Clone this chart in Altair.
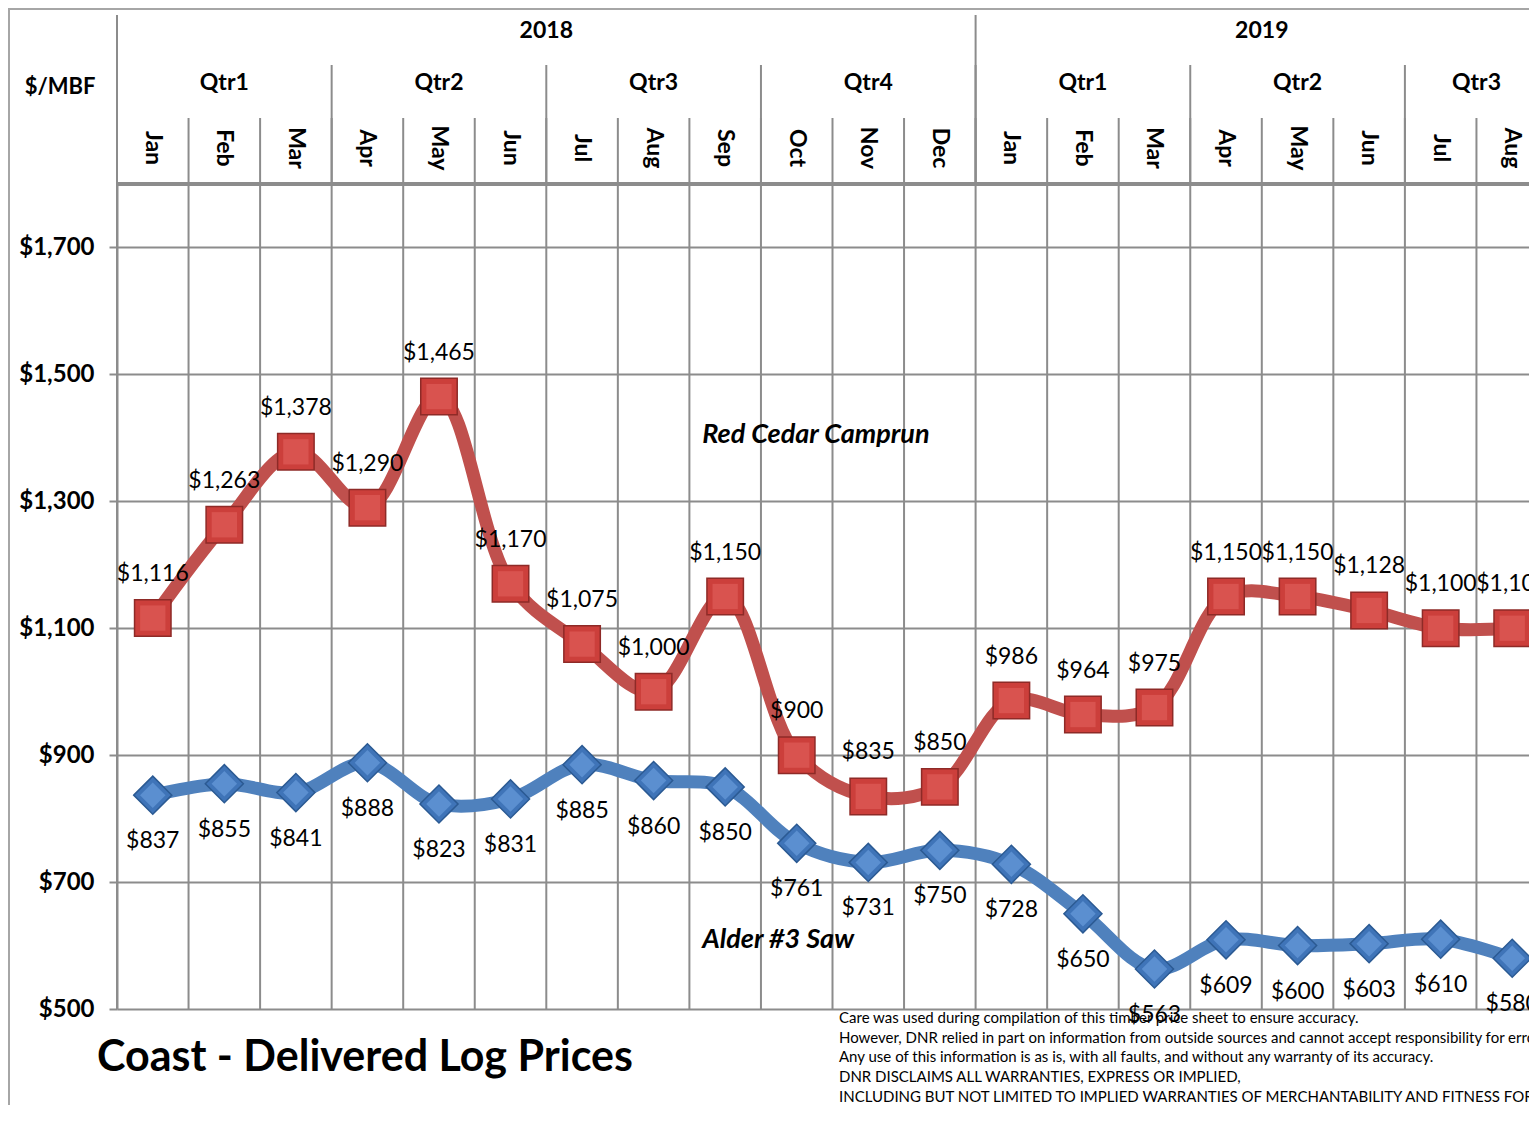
import altair as alt
import pandas as pd

# ---------------- data ----------------
months = ["Jan", "Feb", "Mar", "Apr", "May", "Jun", "Jul", "Aug", "Sep", "Oct", "Nov", "Dec",
          "Jan", "Feb", "Mar", "Apr", "May", "Jun", "Jul", "Aug"]
years = ["2018"] * 12 + ["2019"] * 8
quarters = (["Qtr1"] * 3 + ["Qtr2"] * 3 + ["Qtr3"] * 3 + ["Qtr4"] * 3 +
            ["Qtr1"] * 3 + ["Qtr2"] * 3 + ["Qtr3"] * 2)
red_cedar = [1116, 1263, 1378, 1290, 1465, 1170, 1075, 1000, 1150, 900, 835, 850,
             986, 964, 975, 1150, 1150, 1128, 1100, 1100]
alder = [837, 855, 841, 888, 823, 831, 885, 860, 850, 761, 731, 750,
         728, 650, 563, 609, 600, 603, 610, 580]
y_ticks = [500, 700, 900, 1100, 1300, 1500, 1700]
series_names = ["Red Cedar Camprun", "Alder #3 Saw"]
series_name_pos = [8.18, 8.18]      # month position of annotation (left edge)
series_name_val = [1404, 609]       # $ value of annotation
title_text = "Coast - Delivered Log Prices"
unit_label = "$/MBF"
footnote_lines = [
    "Care was used during compilation of this timber price sheet to ensure accuracy.",
    "However, DNR relied in part on information from outside sources and cannot accept responsibility for errors.",
    "Any use of this information is as is, with all faults, and without any warranty of its accuracy.",
    "DNR DISCLAIMS ALL WARRANTIES, EXPRESS OR IMPLIED,",
    "INCLUDING BUT NOT LIMITED TO IMPLIED WARRANTIES OF MERCHANTABILITY AND FITNESS FOR PARTICULAR PURPOSE.",
]

# ---------------- layout ----------------
N = len(months)
COL_W = 71.55
PLOT_H = 825
VIS_W = 1412
Y_MIN, Y_MAX = 500, 1800
GRID = "#8c8c8c"
RED = "#C0504D"
BLUE = "#4F81BD"
FONT = "Lato"

xs = alt.Scale(domain=[0, N], range=[0, COL_W * N], nice=False, zero=False)
ys = alt.Scale(domain=[Y_MIN, Y_MAX], nice=False, zero=False)

yaxis = alt.Axis(values=y_ticks, format="$,d", title=None, grid=True,
                 gridColor=GRID, gridWidth=2, domainColor=GRID, domainWidth=2,
                 tickColor=GRID, tickWidth=2, tickSize=8, labelPadding=15,
                 labelFont=FONT, labelFontSize=24, labelFontWeight="bold",
                 labelColor="black")

pos = [i + 0.5 for i in range(N)]
df_red = pd.DataFrame({"pos": pos, "value": red_cedar,
                       "label": [f"${v:,}" for v in red_cedar]})
df_blue = pd.DataFrame({"pos": pos, "value": alder,
                        "label": [f"${v:,}" for v in alder]})
df_months = pd.DataFrame({"pos": pos, "month": months})


def spans(keys):
    out = []
    start = 0
    for i in range(1, N + 1):
        if i == N or keys[i] != keys[start]:
            out.append((start, i))
            start = i
    return out


q_keys = [y + q for y, q in zip(years, quarters)]
q_spans = spans(q_keys)
y_spans = spans(years)
df_q = pd.DataFrame({"center": [(a + b) / 2 for a, b in q_spans],
                     "start": [a for a, b in q_spans],
                     "name": [quarters[a] for a, b in q_spans]})
df_y = pd.DataFrame({"center": [(a + b) / 2 for a, b in y_spans],
                     "start": [a for a, b in y_spans],
                     "name": [years[a] for a, b in y_spans]})
df_bounds = pd.DataFrame({"b": list(range(N + 1)),
                          "lo": [Y_MIN] * (N + 1), "hi": [Y_MAX] * (N + 1)})
df_top = pd.DataFrame({"x0": [0], "x1": [N], "y": [Y_MAX]})
one = pd.DataFrame({"a": [0]})

X = lambda f: alt.X(f, scale=xs, axis=None)
Y = lambda f: alt.Y(f, scale=ys, axis=yaxis)

# ---------------- layers ----------------
vgrid = alt.Chart(df_bounds).mark_rule(color=GRID, strokeWidth=2).encode(
    x=X("b:Q"), y=Y("lo:Q"), y2="hi:Q")
vgrid_head = alt.Chart(df_bounds).mark_rule(color=GRID, strokeWidth=2).encode(
    x=X("b:Q"), y=alt.value(-66), y2=alt.value(0))
qgrid_head = alt.Chart(df_q).mark_rule(color=GRID, strokeWidth=2).encode(
    x=X("start:Q"), y=alt.value(-119), y2=alt.value(0))
ygrid_head = alt.Chart(df_y).mark_rule(color=GRID, strokeWidth=2).encode(
    x=X("start:Q"), y=alt.value(-169), y2=alt.value(0))
top_line = alt.Chart(df_top).mark_rule(color=GRID, strokeWidth=4).encode(
    x=X("x0:Q"), x2="x1:Q", y=Y("y:Q"))
frame_top = alt.Chart(one).mark_rule(color="#a6a6a6", strokeWidth=2).encode(
    x=alt.value(-110), x2=alt.value(1500), y=alt.value(-175))
frame_left = alt.Chart(one).mark_rule(color="#a6a6a6", strokeWidth=2).encode(
    x=alt.value(-108), y=alt.value(-175), y2=alt.value(950))

month_text = alt.Chart(df_months).mark_text(
    angle=90, font=FONT, fontSize=23, fontWeight="bold", color="black",
    align="center", baseline="middle").encode(
    x=X("pos:Q"), y=alt.value(-36), text="month:N")
q_text = alt.Chart(df_q).mark_text(
    font=FONT, fontSize=23, fontWeight="bold", color="black",
    align="center", baseline="middle").encode(
    x=X("center:Q"), y=alt.value(-101), text="name:N")
y_text = alt.Chart(df_y).mark_text(
    font=FONT, fontSize=23, fontWeight="bold", color="black",
    align="center", baseline="middle").encode(
    x=X("center:Q"), y=alt.value(-153), text="name:N")
unit_text = alt.Chart(one).mark_text(
    font=FONT, fontSize=22, fontWeight="bold", color="black",
    align="center", baseline="middle").encode(
    x=alt.value(-57), y=alt.value(-97), text=alt.value(unit_label))

red_line = alt.Chart(df_red).mark_line(
    interpolate="catmull-rom", strokeWidth=13, color=RED).encode(
    x=X("pos:Q"), y=Y("value:Q"))
blue_line = alt.Chart(df_blue).mark_line(
    interpolate="catmull-rom", strokeWidth=13, color=BLUE).encode(
    x=X("pos:Q"), y=Y("value:Q"))
red_pts = alt.Chart(df_red).mark_point(
    shape="square", size=1330, filled=True, fill="#cc3f3b", stroke="#8e2a27",
    strokeWidth=1.5, opacity=1).encode(x=X("pos:Q"), y=Y("value:Q"))
red_pts_hi = alt.Chart(df_red).mark_point(
    shape="square", size=640, filled=True, fill="#d9534f", opacity=1).encode(
    x=X("pos:Q"), y=Y("value:Q"))
blue_pts = alt.Chart(df_blue).mark_point(
    shape="diamond", size=1450, filled=True, fill="#3f74b8", stroke="#2b5a93",
    strokeWidth=1.5, opacity=1).encode(x=X("pos:Q"), y=Y("value:Q"))
blue_pts_hi = alt.Chart(df_blue).mark_point(
    shape="diamond", size=650, filled=True, fill="#5b8fd0", opacity=1).encode(
    x=X("pos:Q"), y=Y("value:Q"))

red_lbl = alt.Chart(df_red).mark_text(
    dy=-44, font=FONT, fontSize=23, color="black", align="center",
    baseline="middle").encode(x=X("pos:Q"), y=Y("value:Q"), text="label:N")
blue_lbl = alt.Chart(df_blue).mark_text(
    dy=46, font=FONT, fontSize=23, color="black", align="center",
    baseline="middle").encode(x=X("pos:Q"), y=Y("value:Q"), text="label:N")

df_names = pd.DataFrame({"pos": series_name_pos, "value": series_name_val,
                         "name": series_names})
name_text = alt.Chart(df_names).mark_text(
    font=FONT, fontSize=27, fontWeight="bold", fontStyle="italic",
    color="black", align="left", baseline="middle").encode(
    x=X("pos:Q"), y=Y("value:Q"), text="name:N")

title_mark = alt.Chart(one).mark_text(
    font=FONT, fontSize=43, fontWeight="bold", color="black",
    align="left", baseline="middle").encode(
    x=alt.value(-20), y=alt.value(874), text=alt.value(title_text))

foot_layers = []
for i, line in enumerate(footnote_lines):
    foot_layers.append(
        alt.Chart(one).mark_text(
            font=FONT, fontSize=15, color="black", align="left",
            baseline="middle").encode(
            x=alt.value(722), y=alt.value(834 + i * 19.7), text=alt.value(line)))

chart = alt.layer(
    vgrid, vgrid_head, qgrid_head, ygrid_head, top_line, frame_top, frame_left,
    month_text, q_text, y_text, unit_text,
    red_line, blue_line, red_pts, red_pts_hi, blue_pts, blue_pts_hi,
    red_lbl, blue_lbl, name_text, title_mark, *foot_layers,
).properties(
    width=VIS_W, height=PLOT_H,
    autosize=alt.AutoSizeParams(type="none"),
    padding={"left": 109, "top": 176, "right": 0, "bottom": 96},
    background="white",
).configure_view(stroke=None)

chart.save("out.html", embed_options={"renderer": "svg", "actions": False})
